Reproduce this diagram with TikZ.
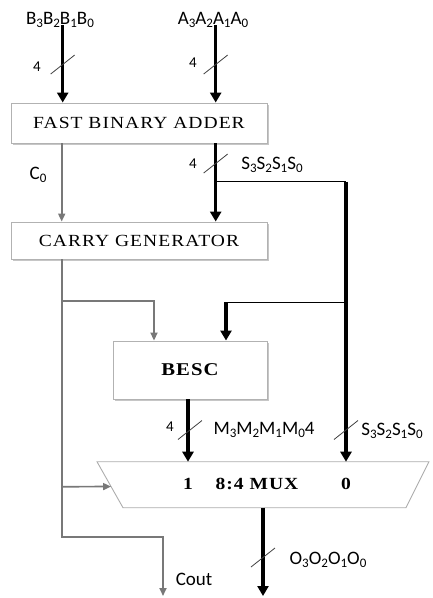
\documentclass[tikz,border=0pt]{standalone}
\usepackage{fontspec}
\setmainfont{Liberation Serif}
\newfontfamily\lblfont{Carlito}
\newfontfamily\boxfont[FakeStretch=1.15,LetterSpace=6]{Liberation Serif}
\usetikzlibrary{positioning}
\usetikzlibrary{calc}
\usetikzlibrary{arrows.meta}
\usetikzlibrary{shadows}
\definecolor{wiregray}{RGB}{120,120,120}
\newcommand{\lo}[1]{\raisebox{-0.15em}{\fontsize{13}{13}\selectfont #1}}

\tikzset{
  block/.style={draw=gray!60, line width=0.9pt, fill=white,
    drop shadow={shadow xshift=1.6pt, shadow yshift=-1.6pt, fill=gray!45, opacity=1},
    font=\boxfont\fontsize{17}{17}\selectfont},
  bus/.style={line width=3.3pt, -{Triangle[width=11pt,length=10pt]}},
  ctl/.style={draw=wiregray, line width=1.7pt},
  ctlarrow/.style={ctl, -{Triangle[width=7pt,length=8pt]}},
  branch/.style={line width=1pt},
  slash/.style={draw=black!75, line width=0.8pt},
  lbl/.style={font=\lblfont\fontsize{19}{19}\selectfont, inner sep=0pt},
  width/.style={font=\lblfont\fontsize{15}{15}\selectfont, inner sep=0pt},
  muxtext/.style={font=\boxfont\bfseries\fontsize{17}{17}\selectfont, inner sep=0pt}
}

\begin{document}
\begin{tikzpicture}[x=1pt, y=-1pt]
    \useasboundingbox (0,0) rectangle (433,598);

    % blocks
    \node[block, minimum width=256pt, minimum height=40pt] (fba) at (139,123) {FAST BINARY ADDER};
    \node[block, minimum width=256pt, minimum height=37pt] (cg) at (139,240.5) {CARRY GENERATOR};
    \node[block, minimum width=154pt, minimum height=58pt, font=\boxfont\bfseries\fontsize{18}{18}\selectfont] (besc) at (190,370) {BESC};

    % multiplexer
    \coordinate (mtl) at (97,461.7);
    \coordinate (mtr) at (429,461.7);
    \coordinate (mbr) at (406,507.7);
    \coordinate (mbl) at (123,507.7);
    \draw[draw=gray!65, line width=0.9pt] (mtl) -- (mtr) -- (mbr) -- (mbl) -- cycle;
    \node[muxtext] (mux1) at (188,484) {1};
    \node[muxtext] (muxname) at (257,484) {8:4 MUX};
    \node[muxtext] (mux0) at (346,484) {0};
    \coordinate (muxin) at ($(mtl)!0.54!(mbl)$);

    % inputs
    \node[lbl] (blbl) at (60,20) {B\lo{3}B\lo{2}B\lo{1}B\lo{0}};
    \node[lbl] (albl) at (213,20) {A\lo{3}A\lo{2}A\lo{1}A\lo{0}};
    \coordinate (bx) at (62.7,25);
    \coordinate (ax) at (215.7,25);
    \draw[bus] (bx) -- (bx |- fba.north);
    \draw[bus] (ax) -- (ax |- fba.north);

    % sum bus and its branches
    \coordinate (sbr) at (215.7,181.7);
    \coordinate (sright) at (346,181.7);
    \coordinate (sjoin) at (346,302.3);
    \coordinate (bescin) at (226,302.3);
    \draw[bus] (fba.south -| sbr) -- (cg.north -| sbr);
    \draw[branch] (sbr) -- (sright);
    \draw[bus] (sright) -- (mtr -| sright);
    \draw[branch] (sjoin) -- (bescin);
    \draw[bus] (bescin) -- (besc.north -| bescin);
    \draw[bus] (besc.south -| mux1) -- (mtl -| mux1);

    % carry path
    \coordinate (cx) at (61.7,143);
    \coordinate (cj1) at (61.7,300.7);
    \coordinate (cj2) at (61.7,486.7);
    \coordinate (cbend) at (61.7,536.7);
    \coordinate (cout) at (163,596);
    \draw[ctlarrow] (fba.south -| cx) -- (cg.north -| cx);
    \draw[ctlarrow] (cg.south -| cx) -- (cbend) -| (cout);
    \draw[ctlarrow] (cj1) -| (besc.north -| 154,0);
    \draw[ctlarrow] (cj2) -- (muxin);

    % output
    \coordinate (oout) at (263,596);
    \draw[bus] (mbl -| oout) -- (oout);

    % bus width marks
    \foreach \x/\y in {62.7/64.5, 215.7/64.5, 215.7/163.5, 190/430, 346/430, 263/557.5} {
        \draw[slash] (\x-12,\y+9.5) -- (\x+12,\y-9.5);
    }
    \node[width] (wb) at (37,67) {4};
    \node[width] (wa) at (193,63) {4};
    \node[width] (ws) at (193,164) {4};
    \node[width] (wm) at (170,427) {4};

    % signal names
    \node[lbl] (c0lbl) at (38,175) {C\lo{0}};
    \node[lbl] (slbl) at (272,165) {S\lo{3}S\lo{2}S\lo{1}S\lo{0}};
    \node[lbl] (mlbl) at (264,430) {M\lo{3}M\lo{2}M\lo{1}M\lo{0}4};
    \node[lbl] (s2lbl) at (392,431) {S\lo{3}S\lo{2}S\lo{1}S\lo{0}};
    \node[lbl] (olbl) at (328,560) {O\lo{3}O\lo{2}O\lo{1}O\lo{0}};
    \node[lbl] (coutlbl) at (194,579) {Cout};
\end{tikzpicture}
\end{document}
